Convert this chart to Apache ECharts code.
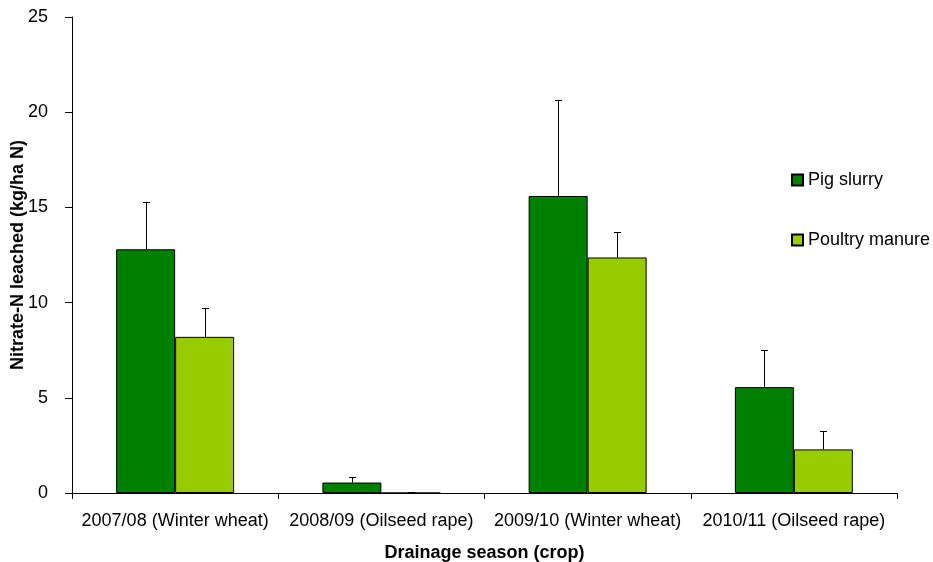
<!DOCTYPE html>
<html>
<head>
<meta charset="utf-8">
<script src="https://cdn.jsdelivr.net/npm/echarts@6/dist/echarts.min.js"></script>
<style>html,body{margin:0;padding:0;background:#fff}#c{width:933px;height:562px}</style>
</head>
<body>
<div id="c"></div>
<script>
var categories = ['2007/08 (Winter wheat)', '2008/09 (Oilseed rape)', '2009/10 (Winter wheat)', '2010/11 (Oilseed rape)'];
var pigSlurry = [12.8, 0.55, 15.6, 5.56];
var pigSlurryErr = [15.27, 0.85, 20.64, 7.49];
var poultryManure = [8.2, 0, 12.37, 2.29];
var poultryManureErr = [9.7, 0.06, 13.71, 3.28];
var yTicks = [0, 5, 10, 15, 20, 25];

var FONT = 'Liberation Sans, Arial, sans-serif';
var BAR_FRAC = 0.286;

function errSeries(name, vals, errs, side) {
  return {
    type: 'custom',
    name: name + ' err',
    z: 1,
    silent: true,
    data: vals.map(function (v, i) { return [i, v, errs[i]]; }),
    renderItem: function (params, api) {
      var band = api.size([1, 0])[0];
      var off = side * band * BAR_FRAC / 2;
      var p0 = api.coord([api.value(0), api.value(1)]);
      var p1 = api.coord([api.value(0), api.value(2)]);
      var x = Math.round(p0[0] + off) + 0.5;
      var yc = Math.round(p1[1]) + 0.5;
      var style = { stroke: '#000', lineWidth: 1 };
      return {
        type: 'group',
        children: [
          { type: 'line', shape: { x1: x, y1: p0[1], x2: x, y2: yc }, style: style },
          { type: 'line', shape: { x1: x - 3.5, y1: yc, x2: x + 3.5, y2: yc }, style: style }
        ]
      };
    }
  };
}

var chart = echarts.init(document.getElementById('c'));
chart.setOption({
  animation: false,
  backgroundColor: '#fff',
  textStyle: { fontFamily: FONT },
  grid: { left: 72, right: 36, top: 17, bottom: 69, containLabel: false, outerBoundsMode: 'none' },
  legend: {
    orient: 'vertical',
    left: 791,
    top: 171,
    padding: 0,
    itemGap: 42,
    itemWidth: 11,
    itemHeight: 11,
    icon: 'rect',
    textStyle: { fontFamily: FONT, fontSize: 18, color: '#000' },
    data: ['Pig slurry', 'Poultry manure']
  },
  xAxis: {
    type: 'category',
    data: categories,
    name: 'Drainage season (crop)',
    nameLocation: 'middle',
    nameGap: 51,
    nameMoveOverlap: false,
    nameTextStyle: { fontFamily: FONT, fontSize: 18, fontWeight: 'bold', color: '#000' },
    axisLine: { lineStyle: { color: '#000', width: 1 } },
    axisTick: { show: true, length: 6, inside: false, lineStyle: { color: '#000' } },
    axisLabel: { fontFamily: FONT, fontSize: 18, color: '#000', margin: 19, interval: 0 },
    splitLine: { show: false }
  },
  yAxis: {
    type: 'value',
    min: 0,
    max: 25,
    interval: 5,
    name: 'Nitrate-N leached (kg/ha N)',
    nameLocation: 'middle',
    nameGap: 45,
    nameMoveOverlap: false,
    nameTextStyle: { fontFamily: FONT, fontSize: 18, fontWeight: 'bold', color: '#000' },
    axisLine: { show: true, lineStyle: { color: '#000', width: 1 } },
    axisTick: { show: true, length: 7, inside: false, lineStyle: { color: '#000' } },
    axisLabel: {
      fontFamily: FONT, fontSize: 18, color: '#000', margin: 24,
      formatter: function (v) { return yTicks.indexOf(v) >= 0 ? String(v) : ''; }
    },
    splitLine: { show: false }
  },
  series: [
    {
      name: 'Pig slurry',
      type: 'bar',
      data: pigSlurry,
      barWidth: (BAR_FRAC * 100) + '%',
      barGap: '0%',
      z: 2,
      itemStyle: { color: '#008000', borderColor: '#000', borderWidth: 1 }
    },
    {
      name: 'Poultry manure',
      type: 'bar',
      data: poultryManure,
      barWidth: (BAR_FRAC * 100) + '%',
      barGap: '0%',
      z: 2,
      itemStyle: { color: '#99CC00', borderColor: '#000', borderWidth: 1 }
    },
    errSeries('Pig slurry', pigSlurry, pigSlurryErr, -1),
    errSeries('Poultry manure', poultryManure, poultryManureErr, 1)
  ]
});
</script>
</body>
</html>
